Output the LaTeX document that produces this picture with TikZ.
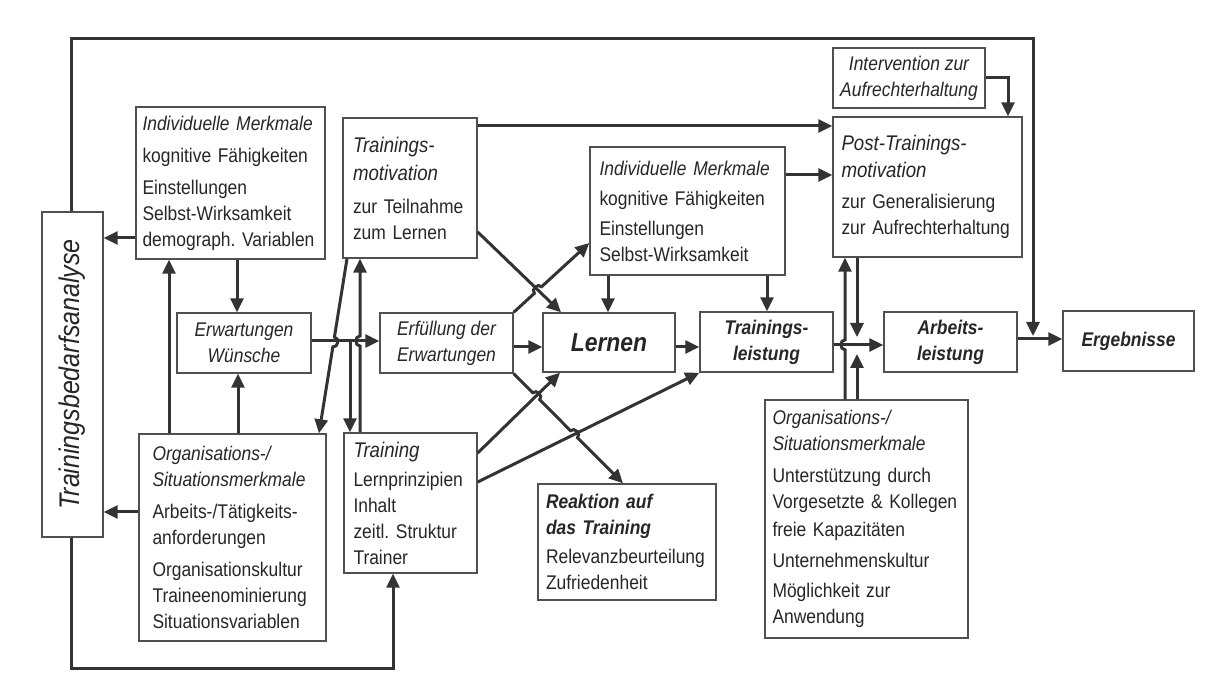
\documentclass[tikz,border=0pt]{standalone}
\usepackage{fontspec}
\setmainfont{Liberation Sans}[FakeStretch=0.88]
\usetikzlibrary{arrows.meta,calc}
\frenchspacing

\definecolor{linegray}{HTML}{333333}
\definecolor{boxgray}{HTML}{505050}
\definecolor{textgray}{HTML}{262626}

\newcommand{\hdr}[1]{{\fontsize{10.6}{13}\selectfont\itshape #1}}

\tikzset{
  box/.style={draw=boxgray, line width=0.7pt, inner sep=0pt, text=textgray,
    font=\fontsize{9.9}{13}\selectfont},
  keybox/.style={box, align=center, font=\fontsize{9.9}{13}\selectfont\bfseries\itshape},
  arr/.style={draw=linegray, line width=1.5pt, -{Triangle[length=7pt,width=6.5pt]}},
  hop/.style={bend left=90, looseness=1.4},
}

\begin{document}
\begin{tikzpicture}[x=0.5pt, y=-0.5pt]
\useasboundingbox (0,0) rectangle (1209,683);

% Kaesten
\node[box, minimum width=30.5pt, minimum height=162.5pt] (bed) at (72.5,374.5) {};
\node[rotate=90, text=textgray, font=\fontsize{14.2}{15}\selectfont\itshape] (bedtxt) at (bed.center) {Trainingsbedarfsanalyse};

\node[box, minimum width=94.5pt, minimum height=76pt, text width=88pt, align=left] (indA) at (230.5,183)
  {\textit{Individuelle Merkmale}\\[3pt] kognitive Fähigkeiten\\[3pt] Einstellungen\\ Selbst-Wirksamkeit\\ demograph. Variablen};
\node[box, minimum width=67pt, minimum height=30pt, align=center, font=\fontsize{9.9}{13}\selectfont\itshape] (erw) at (244,343)
  {Erwartungen\\ Wünsche};
\node[box, minimum width=93.5pt, minimum height=103.5pt, text width=80pt, align=left] (orgA) at (232.5,537.5)
  {\textit{Organisations-/}\\ \textit{Situationsmerkmale}\\[3pt] Arbeits-/Tätigkeits-\\ anforderungen\\[3pt] Organisationskultur\\ Traineenominierung\\ Situationsvariablen};

\node[box, minimum width=67pt, minimum height=70pt, text width=57pt, align=left] (mot) at (410,188)
  {\hdr{Trainings-}\\[1pt] \hdr{motivation}\\[3.5pt] zur Teilnahme\\ zum Lernen};
\node[box, minimum width=66.5pt, minimum height=70pt, text width=57pt, align=left] (tr) at (410.5,503)
  {\hdr{Training}\\[1.5pt] Lernprinzipien\\ Inhalt\\ zeitl. Struktur\\ Trainer};
\node[box, minimum width=66.5pt, minimum height=30pt, align=center, font=\fontsize{9.9}{13}\selectfont\itshape] (erf) at (446.5,343)
  {Erfüllung der\\ Erwartungen};

\node[box, minimum width=97.5pt, minimum height=64pt, text width=88pt, align=left] (indB) at (687.5,211)
  {\textit{Individuelle Merkmale}\\[2pt] kognitive Fähigkeiten\\[2pt] Einstellungen\\ Selbst-Wirksamkeit};
\node[keybox, minimum width=66pt, minimum height=29.5pt, font=\fontsize{13}{14}\selectfont\bfseries\itshape] (lern) at (609,342.5) {Lernen};
\node[keybox, minimum width=66.5pt, minimum height=30pt] (tl) at (766.5,342) {Trainings-\\ leistung};
\node[box, minimum width=89pt, minimum height=58pt, text width=81pt, align=left] (reak) at (627,542)
  {\textbf{\textit{Reaktion auf}}\\ \textbf{\textit{das Training}}\\[1.5pt] Relevanzbeurteilung\\ Zufriedenheit};

\node[box, minimum width=76pt, minimum height=30pt, align=center, font=\fontsize{9.9}{13}\selectfont\itshape] (int) at (909,78)
  {Intervention zur\\ Aufrechterhaltung};
\node[box, minimum width=94.5pt, minimum height=70pt, text width=86pt, align=left] (post) at (927.5,187)
  {\hdr{Post-Trainings-}\\[0.5pt] \hdr{motivation}\\[2.5pt] zur Generalisierung\\ zur Aufrechterhaltung};
\node[keybox, minimum width=66.5pt, minimum height=30pt] (al) at (950.5,342) {Arbeits-\\ leistung};
\node[keybox, minimum width=65.5pt, minimum height=30pt] (erg) at (1128.5,341) {Ergebnisse};
\node[box, minimum width=101.5pt, minimum height=119pt, text width=94pt, align=left] (orgB) at (866.5,519)
  {\textit{Organisations-/}\\ \textit{Situationsmerkmale}\\[3pt] Unterstützung durch\\ Vorgesetzte \& Kollegen\\[1pt] freie Kapazitäten\\[2.5pt] Unternehmenskultur\\[2pt] Möglichkeit zur\\ Anwendung};

% Rueckkopplung
\draw[arr] (bed.north -| 71,0) |- (1033,39) -- (1033,336);
\draw[arr] (bed.south -| 71,0) |- (393,668) -- (tr.south -| 393,0);

% linke Seite
\draw[arr] (indA.west |- 0,238) -- (bed.east |- 0,238);
\draw[arr] (orgA.west |- 0,512) -- (bed.east |- 0,512);
\draw[arr] (indA.south -| 237,0) -- (erw.north -| 237,0);
\draw[arr] (orgA.north -| 169,0) -- (indA.south -| 169,0);
\draw[arr] (orgA.north -| 238,0) -- (erw.south -| 238,0);

\draw[arr] (erw.east |- 0,341) -- (erf.west |- 0,341);
\coordinate (jn) at (350,341);
\draw[arr] (jn) -- (tr.north -| jn);

\coordinate (o1) at (mot.south -| 347,0);
\coordinate (o2) at (orgA.north -| 319,0);
\draw[arr] (o1) -- ($(o1)!0.449!(o2)$) to[hop] ($(o1)!0.505!(o2)$) -- (o2);

\coordinate (p1) at (tr.north -| 360,0);
\coordinate (p2) at (mot.south -| 360,0);
\draw[arr] (p1) -- ($(p1)!0.497!(p2)$) to[hop] ($(p1)!0.555!(p2)$) -- (p2);

% Mitte
\draw[arr] (mot.east |- 0,126) -- (post.west |- 0,126);
\draw[arr] (erf.east |- 0,347) -- (lern.west |- 0,347);
\draw[arr] (lern.east |- 0,347) -- (tl.west |- 0,347);
\draw[arr] (indB.south -| 608,0) -- (lern.north -| 608,0);
\draw[arr] (indB.south -| 767,0) -- (tl.north -| 767,0);
\draw[arr] (indB.east |- 0,175) -- (post.west |- 0,175);

\draw[arr] (mot.east |- 0,232) -- (lern.north -| 561,0);
\coordinate (c2a) at (erf.north east);
\coordinate (c2b) at (indB.west |- 0,243);
\draw[arr] (c2a) -- ($(c2a)!0.273!(c2b)$) to[hop] ($(c2a)!0.369!(c2b)$) -- (c2b);

\draw[arr] (tr.east |- 0,453) -- (lern.south -| 560,0);
\draw[arr] (tr.east |- 0,482) -- (tl.south west);
\coordinate (c3a) at (erf.south east);
\coordinate (c3b) at (reak.north -| 623,0);
\draw[arr] (c3a) -- ($(c3a)!0.174!(c3b)$) to[hop] ($(c3a)!0.238!(c3b)$)
  -- ($(c3a)!0.52!(c3b)$) to[hop] ($(c3a)!0.584!(c3b)$) -- (c3b);

% rechte Seite
\draw[arr] (tl.east |- 0,345) -- (al.west |- 0,345);
\draw[arr] (al.east |- 0,339) -- (erg.west |- 0,339);
\draw[arr] (int.east) -| (post.north -| 1008,0);

\coordinate (t1) at (orgB.north -| 845,0);
\coordinate (t2) at (post.south -| 845,0);
\draw[arr] (t1) -- ($(t1)!0.35!(t2)$) to[hop] ($(t1)!0.42!(t2)$) -- (t2);
\coordinate (mA) at (857,337);
\coordinate (mB) at (857,354);
\draw[arr] (post.south -| mA) -- (mA);
\draw[arr] (orgB.north -| mB) -- (mB);

\end{tikzpicture}
\end{document}
